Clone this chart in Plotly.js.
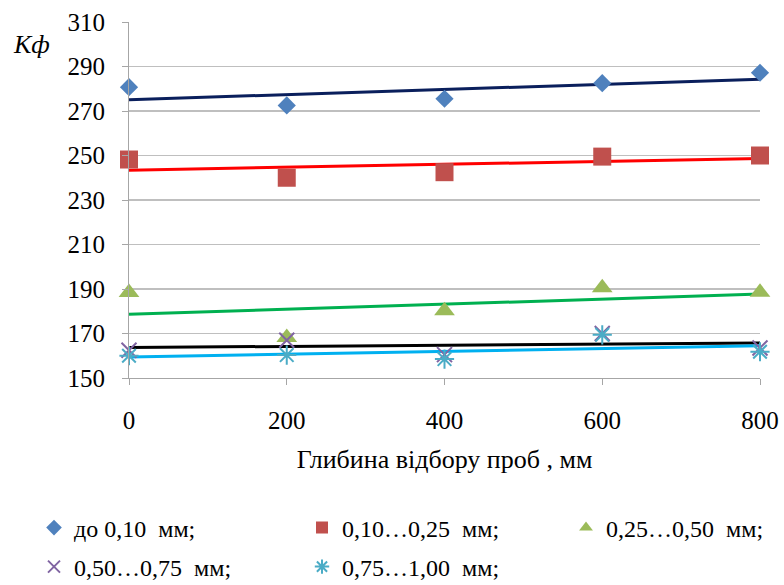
<!DOCTYPE html>
<html><head><meta charset="utf-8">
<script src="https://cdn.plot.ly/plotly-3.0.1.min.js"></script>
<style>html,body{margin:0;padding:0;background:#fff}</style>
</head><body><div id="chart" style="width:784px;height:585px"></div>
<script>
const depth = [0, 200, 400, 600, 800];
const s1 = [280.7, 272.5, 275.5, 282.5, 287.2];
const s2 = [248.2, 240.0, 242.5, 249.5, 250.0];
const s3 = [188.4, 168.2, 180.2, 190.6, 188.5];
const s4 = [162.5, 167.0, 160.5, 170.0, 163.5];
const s5 = [160.0, 160.3, 158.5, 169.4, 161.8];
const names = ['до 0,10  мм;', '0,10…0,25  мм;', '0,25…0,50  мм;', '0,50…0,75  мм;', '0,75…1,00  мм;'];
const yTicks = [150, 170, 190, 210, 230, 250, 270, 290, 310];
const xTicks = [0, 200, 400, 600, 800];
const xTitle = 'Глибина відбору проб , мм';
const yLabel = 'Kф';

const series = [s1, s2, s3, s4, s5];
const markerStyles = [
  {symbol: 'diamond', size: 14, color: '#4F81BD'},
  {symbol: 'square', size: 18, color: '#C0504D'},
  {symbol: 'triangle-up', size: 18, color: '#9BBB59'},
  {symbol: 'x-thin-open', size: 15, color: '#8064A2', line: {width: 2, color: '#8064A2'}},
  {symbol: 'asterisk-open', size: 16, color: '#4BACC6', line: {width: 2, color: '#4BACC6'}}
];
const trendColors = ['#0A1F5C', '#FF0000', '#00B050', '#000000', '#00B0F0'];
const legendIds = ['legend', 'legend2', 'legend3', 'legend4', 'legend5'];

function fit(x, y) {
  const n = x.length;
  const mx = x.reduce((a, b) => a + b, 0) / n;
  const my = y.reduce((a, b) => a + b, 0) / n;
  let num = 0, den = 0;
  for (let i = 0; i < n; i++) { num += (x[i] - mx) * (y[i] - my); den += (x[i] - mx) ** 2; }
  const b = num / den, a = my - b * mx;
  return x.map(v => a + b * v);
}

const traces = [];
series.forEach((s, i) => {
  traces.push({
    x: depth, y: fit(depth, s), mode: 'lines', showlegend: false,
    line: {color: trendColors[i], width: 3}, hoverinfo: 'skip', cliponaxis: false
  });
});
series.forEach((s, i) => {
  traces.push({
    x: depth, y: s, mode: 'markers', name: names[i], legend: legendIds[i],
    marker: markerStyles[i], cliponaxis: false
  });
});

const FAM = 'Liberation Serif, Times New Roman, serif';
const mk = (size) => ({family: FAM, size: size, color: '#000'});
function leg(xpx, ypx) {
  return {
    orientation: 'h', xref: 'container', yref: 'container',
    x: xpx / 784, y: 1 - ypx / 585, xanchor: 'left', yanchor: 'middle',
    itemsizing: 'constant', font: mk(24), bgcolor: 'rgba(0,0,0,0)', borderwidth: 0
  };
}
const layout = {
  width: 784, height: 585,
  margin: {l: 129, r: 24, t: 22, b: 207},
  paper_bgcolor: '#fff', plot_bgcolor: '#fff',
  font: mk(25),
  showlegend: true,
  xaxis: {
    range: [0, 800], tickvals: xTicks, ticktext: xTicks.map(String),
    showgrid: false, zeroline: false, showline: true, linecolor: '#A6A6A6', linewidth: 1,
    ticks: 'outside', ticklen: 6, tickcolor: '#A6A6A6', ticklabelstandoff: 14,
    tickfont: mk(25),
    title: {text: xTitle, font: mk(26), standoff: 16}
  },
  yaxis: {
    range: [150, 310], tickvals: yTicks, ticktext: yTicks.map(String),
    showgrid: true, gridcolor: '#BFBFBF', gridwidth: 1.5, zeroline: false,
    showline: true, linecolor: '#A6A6A6', linewidth: 1,
    ticks: 'outside', ticklen: 6, tickcolor: '#A6A6A6', ticklabelstandoff: 12,
    tickfont: mk(25)
  },
  legend: leg(34, 528),
  legend2: leg(302, 528),
  legend3: leg(566, 528),
  legend4: leg(34, 567),
  legend5: leg(302, 567),
  annotations: [{
    text: '<i>' + yLabel + '</i>', xref: 'paper', yref: 'paper', x: -0.155, y: 0.938,
    xanchor: 'center', yanchor: 'middle', showarrow: false, font: mk(26)
  }]
};

Plotly.newPlot('chart', traces, layout, {displayModeBar: false, staticPlot: true});
</script>
</body></html>
